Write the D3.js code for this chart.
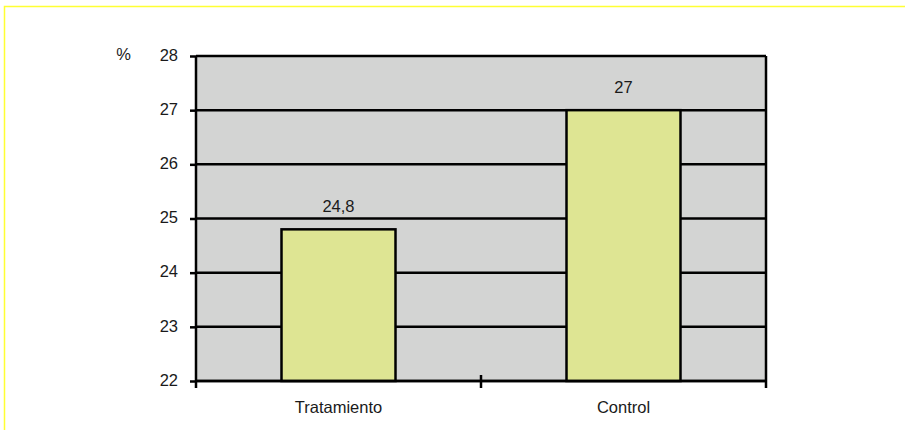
<!DOCTYPE html>
<html><head><meta charset="utf-8">
<script src="https://cdn.jsdelivr.net/npm/d3@7"></script>
<style>body{margin:0;background:#fff}svg{display:block}text{font-family:"Liberation Sans",Arial,sans-serif}</style>
</head><body><svg id="c" width="905" height="430"></svg>
<script>
const categories = ["Tratamiento", "Control"];
const values = [24.8, 27];
const valueLabels = ["24,8", "27"];
const yTicks = [22, 23, 24, 25, 26, 27, 28];
const yUnit = "%";

const FS = 16.5, TC = "#1a1a1a", FF = '"Liberation Sans",Arial,sans-serif';
const svg = d3.select("#c");
const L = 196, R = 766, T = 56, B = 381;
svg.append("rect").attr("x", 4.5).attr("y", 6.5).attr("width", 910).attr("height", 440)
  .attr("fill", "none").attr("stroke", "#ffff33").attr("stroke-width", 1.5);

const x = d3.scaleBand().domain(categories).range([L, R]).paddingInner(0).paddingOuter(0);
const y = d3.scaleLinear().domain([22, 28]).range([B, T]);
const bw = x.bandwidth() * 0.4;

svg.append("rect").attr("x", L).attr("y", T).attr("width", R - L).attr("height", B - T).attr("fill", "#d3d4d3");

svg.append("g").selectAll("line").data(yTicks).join("line")
  .attr("x1", L).attr("x2", R).attr("y1", d => y(d)).attr("y2", d => y(d))
  .attr("stroke", "#000").attr("stroke-width", 2.5);

svg.append("g").selectAll("rect").data(values).join("rect")
  .attr("x", (d, i) => x(categories[i]) + (x.bandwidth() - bw) / 2)
  .attr("y", d => y(d)).attr("width", bw).attr("height", d => B - y(d))
  .attr("fill", "#dee593").attr("stroke", "#000").attr("stroke-width", 2.5);

svg.append("g").selectAll("text").data(values).join("text")
  .attr("x", (d, i) => x(categories[i]) + x.bandwidth() / 2)
  .attr("y", d => y(d) - 17).attr("text-anchor", "middle")
  .attr("font-size", FS).attr("fill", TC).text((d, i) => valueLabels[i]);

// axes
const yAxis = d3.axisLeft(y).tickValues(yTicks).tickSize(6).tickPadding(12).tickFormat(d3.format("d"));
const gy = svg.append("g").attr("transform", `translate(${L},0)`).call(yAxis);
gy.select(".domain").remove();
gy.selectAll(".tick line").attr("stroke", "#000").attr("stroke-width", 2.5);
gy.selectAll(".tick text").attr("font-size", FS).attr("fill", TC).attr("font-family", FF).attr("dy", "0.26em");

svg.append("line").attr("x1", L).attr("x2", L).attr("y1", T).attr("y2", B + 7).attr("stroke", "#000").attr("stroke-width", 2.5);
svg.append("line").attr("x1", R).attr("x2", R).attr("y1", T).attr("y2", B + 7).attr("stroke", "#000").attr("stroke-width", 2.5);

const xAxis = d3.axisBottom(x).tickSize(0).tickPadding(0);
const gx = svg.append("g").attr("transform", `translate(0,${B})`).call(xAxis);
gx.select(".domain").remove();
gx.selectAll(".tick text").attr("font-size", FS).attr("fill", TC).attr("font-family", FF)
  .attr("y", 31.5).attr("dy", null);
svg.append("line").attr("x1", L).attr("x2", R).attr("y1", B).attr("y2", B).attr("stroke", "#000").attr("stroke-width", 2.5);
// category boundary tick
svg.append("g").selectAll("line").data(categories.slice(1)).join("line")
  .attr("x1", d => x(d)).attr("x2", d => x(d)).attr("y1", B - 6).attr("y2", B + 7)
  .attr("stroke", "#000").attr("stroke-width", 2.5);

svg.append("text").attr("x", 131).attr("y", y(28) + 4).attr("text-anchor", "end")
  .attr("font-size", FS).attr("fill", TC).text(yUnit);
</script></body></html>
